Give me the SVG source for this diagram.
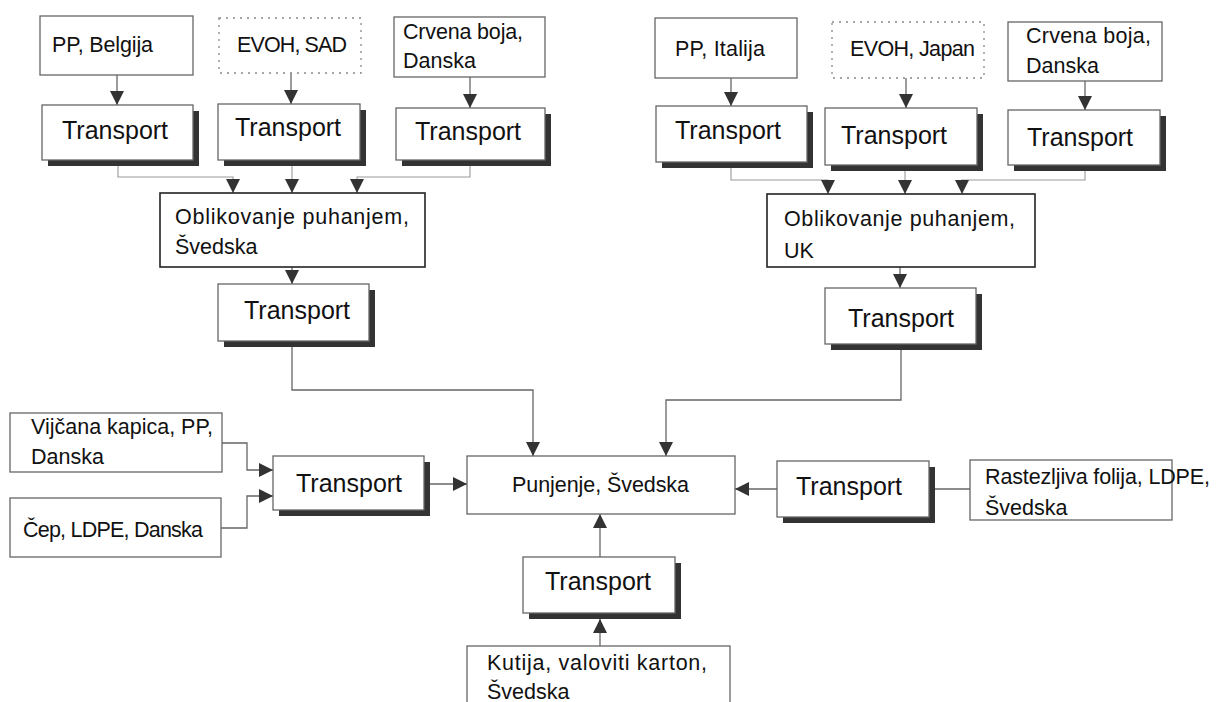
<svg xmlns="http://www.w3.org/2000/svg" width="1216" height="702" viewBox="0 0 1216 702">
<style>
.bg{fill:#fff}
.box{fill:#fff;stroke:#666;stroke-width:1.3}
.dot{fill:#fff;stroke:#888;stroke-width:1.3;stroke-dasharray:2 5}
.bold{fill:#fff;stroke:#222;stroke-width:1.6}
.sh{fill:#333}
.t{font-family:"Liberation Sans",Arial,sans-serif;font-size:21.5px;fill:#111}
.tt{font-family:"Liberation Sans",Arial,sans-serif;font-size:25px;fill:#111}
.c{fill:none;stroke:#666;stroke-width:1.3}
.cl{fill:none;stroke:#999;stroke-width:1.1}
</style>
<defs>
<marker id="ah" markerUnits="userSpaceOnUse" markerWidth="15" markerHeight="15" refX="14" refY="7" orient="auto">
<path d="M0,0 L14,7 L0,14 z" fill="#333"/>
</marker>
</defs>
<rect class="bg" width="1216" height="702"/>

<g id="connectors">
<path class="c" d="M117,75 V105" marker-end="url(#ah)"/>
<path class="c" d="M291,73 V104" marker-end="url(#ah)"/>
<path class="c" d="M470,77 V108" marker-end="url(#ah)"/>
<path class="cl" d="M118,166 V177 H233 V193" marker-end="url(#ah)"/>
<path class="cl" d="M292,166 V193" marker-end="url(#ah)"/>
<path class="cl" d="M470,166 V177 H357 V193" marker-end="url(#ah)"/>
<path class="c" d="M292,267 V284" marker-end="url(#ah)"/>
<path class="c" d="M292,347 V390 H533 V456" marker-end="url(#ah)"/>

<path class="c" d="M731,78 V106" marker-end="url(#ah)"/>
<path class="c" d="M906,78 V108" marker-end="url(#ah)"/>
<path class="c" d="M1085,81 V110" marker-end="url(#ah)"/>
<path class="cl" d="M731,168 V180 H828 V194" marker-end="url(#ah)"/>
<path class="cl" d="M905,171 V194" marker-end="url(#ah)"/>
<path class="cl" d="M1085,171 V180 H962 V194" marker-end="url(#ah)"/>
<path class="c" d="M900,267 V288" marker-end="url(#ah)"/>
<path class="c" d="M901,350 V400 H666 V456" marker-end="url(#ah)"/>

<path class="c" d="M222,443 H247 V470 H273" marker-end="url(#ah)"/>
<path class="c" d="M221,528 H247 V496 H273" marker-end="url(#ah)"/>
<path class="c" d="M430,484 H467" marker-end="url(#ah)"/>
<path class="c" d="M777,489 H735" marker-end="url(#ah)"/>
<path class="c" d="M970,489 H932"/>
<rect x="929" y="482" width="4" height="14" fill="#333"/>
<path class="c" d="M600,557 V514" marker-end="url(#ah)"/>
<path class="c" d="M600,646 V619" marker-end="url(#ah)"/>
</g>

<g id="pp-belgija"><rect class="box" x="40" y="16" width="153" height="59"/><text class="t" x="52" y="52" textLength="101">PP, Belgija</text></g>
<g id="evoh-sad"><rect class="dot" x="219" y="18" width="142" height="55"/><text class="t" x="237" y="52" textLength="110">EVOH, SAD</text></g>
<g id="crvena-1"><rect class="box" x="394" y="17" width="151" height="60"/><text class="t" x="403" y="39" textLength="120">Crvena boja,</text><text class="t" x="403" y="68">Danska</text></g>

<g id="transport-1"><rect class="sh" x="48" y="111" width="151" height="55"/><rect class="box" x="42" y="105" width="151" height="55"/><text class="tt" x="62" y="139">Transport</text></g>
<g id="transport-2"><rect class="sh" x="224" y="110" width="142" height="56"/><rect class="box" x="218" y="104" width="142" height="56"/><text class="tt" x="235" y="136">Transport</text></g>
<g id="transport-3"><rect class="sh" x="402" y="114" width="149" height="52"/><rect class="box" x="396" y="108" width="149" height="52"/><text class="tt" x="415" y="140">Transport</text></g>

<g id="oblikovanje-svedska"><rect class="bold" x="160" y="193" width="265" height="74"/><text class="t" x="175" y="224" textLength="234">Oblikovanje puhanjem,</text><text class="t" x="175" y="254">Švedska</text></g>
<g id="transport-4"><rect class="sh" x="224" y="290" width="151" height="57"/><rect class="box" x="218" y="284" width="151" height="57"/><text class="tt" x="244" y="319">Transport</text></g>

<g id="pp-italija"><rect class="box" x="655" y="18" width="142" height="60"/><text class="t" x="675" y="56" textLength="90">PP, Italija</text></g>
<g id="evoh-japan"><rect class="dot" x="832" y="22" width="152" height="56"/><text class="t" x="850" y="56" textLength="125">EVOH, Japan</text></g>
<g id="crvena-2"><rect class="box" x="1008" y="22" width="154" height="59"/><text class="t" x="1026" y="43" textLength="125">Crvena boja,</text><text class="t" x="1026" y="73">Danska</text></g>

<g id="transport-5"><rect class="sh" x="662" y="112" width="151" height="56"/><rect class="box" x="656" y="106" width="151" height="56"/><text class="tt" x="675" y="139">Transport</text></g>
<g id="transport-6"><rect class="sh" x="831" y="114" width="152" height="57"/><rect class="box" x="825" y="108" width="152" height="57"/><text class="tt" x="841" y="144">Transport</text></g>
<g id="transport-7"><rect class="sh" x="1014" y="116" width="152" height="55"/><rect class="box" x="1008" y="110" width="152" height="55"/><text class="tt" x="1027" y="146">Transport</text></g>

<g id="oblikovanje-uk"><rect class="bold" x="767" y="194" width="268" height="73"/><text class="t" x="784" y="226" textLength="231">Oblikovanje puhanjem,</text><text class="t" x="784" y="258">UK</text></g>
<g id="transport-8"><rect class="sh" x="831" y="294" width="151" height="56"/><rect class="box" x="825" y="288" width="151" height="56"/><text class="tt" x="848" y="327">Transport</text></g>

<g id="punjenje"><rect class="box" x="467" y="456" width="268" height="58"/><text class="t" x="512" y="492" textLength="177">Punjenje, Švedska</text></g>

<g id="vijcana"><rect class="box" x="10" y="413" width="212" height="59"/><text class="t" x="31" y="434" textLength="182">Vijčana kapica, PP,</text><text class="t" x="31" y="464">Danska</text></g>
<g id="cep"><rect class="box" x="10" y="498" width="211" height="59"/><text class="t" x="23" y="537" textLength="180">Čep, LDPE, Danska</text></g>
<g id="transport-9"><rect class="sh" x="279" y="462" width="151" height="54"/><rect class="box" x="273" y="456" width="151" height="54"/><text class="tt" x="296" y="492">Transport</text></g>

<g id="transport-10"><rect class="sh" x="783" y="467" width="152" height="56"/><rect class="box" x="777" y="461" width="152" height="56"/><text class="tt" x="796" y="495">Transport</text></g>
<g id="rastezljiva"><rect class="box" x="970" y="460" width="202" height="60"/><text class="t" x="985" y="484" textLength="225">Rastezljiva folija, LDPE,</text><text class="t" x="985" y="515">Švedska</text></g>

<g id="transport-11"><rect class="sh" x="529" y="563" width="152" height="56"/><rect class="box" x="523" y="557" width="152" height="56"/><text class="tt" x="545" y="590">Transport</text></g>
<g id="kutija"><rect class="box" x="467" y="646" width="263" height="70"/><text class="t" x="487" y="670" textLength="220">Kutija, valoviti karton,</text><text class="t" x="487" y="699">Švedska</text></g>
</svg>
